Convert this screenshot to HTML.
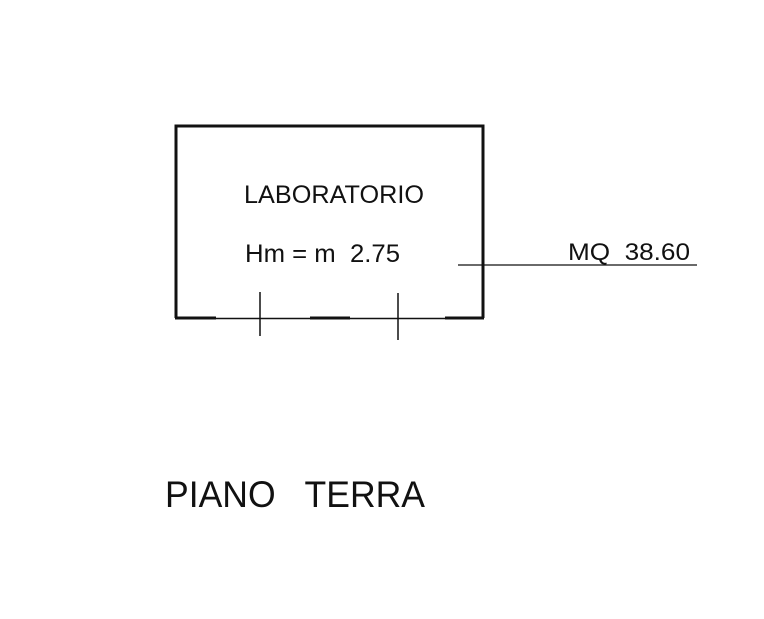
<!DOCTYPE html>
<html><head><style>
html,body{margin:0;padding:0;background:#fff;}
</style></head><body>
<svg width="764" height="614" viewBox="0 0 764 614" xmlns="http://www.w3.org/2000/svg">
<rect width="764" height="614" fill="#fff"/>
<g stroke="#111" fill="none">
<path d="M176 318 V126 H483 V318" stroke-width="3"/>
<line x1="175" y1="318" x2="216" y2="318" stroke-width="3"/>
<line x1="216" y1="318.5" x2="310" y2="318.5" stroke-width="1.5"/>
<line x1="310" y1="318" x2="350" y2="318" stroke-width="3"/>
<line x1="350" y1="318.5" x2="445" y2="318.5" stroke-width="1.5"/>
<line x1="445" y1="318" x2="484" y2="318" stroke-width="3"/>
<line x1="260" y1="292" x2="260" y2="336" stroke-width="1.5"/>
<line x1="398" y1="293" x2="398" y2="340" stroke-width="1.5"/>
<line x1="458" y1="265" x2="697" y2="265" stroke-width="1.3"/>
</g>
<g font-family="Liberation Sans, sans-serif" fill="#111">
<text x="244" y="203" font-size="25" textLength="180" lengthAdjust="spacingAndGlyphs">LABORATORIO</text>
<text x="245" y="262" font-size="25" textLength="155" lengthAdjust="spacingAndGlyphs">Hm = m&#160; 2.75</text>
<text x="568" y="260" font-size="24" textLength="122" lengthAdjust="spacingAndGlyphs">MQ&#160; 38.60</text>
<text x="165" y="507" font-size="37" textLength="260" lengthAdjust="spacingAndGlyphs">PIANO&#160;&#160; TERRA</text>
</g>
</svg>
</body></html>
